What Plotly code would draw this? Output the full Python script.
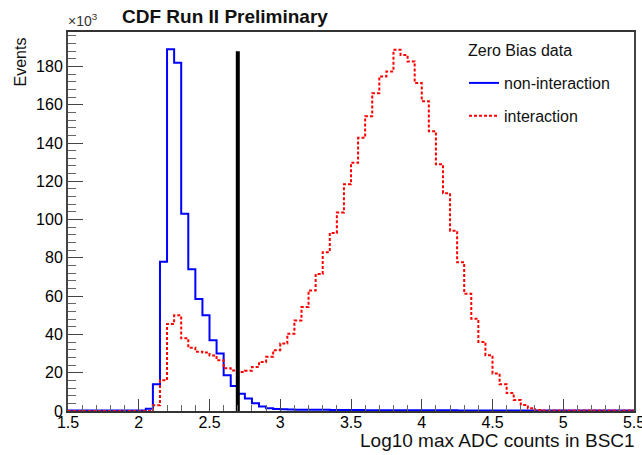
import numpy as np
import plotly.graph_objects as go

# ---- data (values in units of 10^3 events) ----
bin_start = 1.5
bin_width = 0.05

non_interaction = [
    0.2, 0.2, 0.2, 0.2, 0.2, 0.2, 0.2, 0.2, 0.2, 0.2,      # 1.50-2.00
    0.3, 1.2, 14.0, 78.0, 189.0, 182.0, 103.0, 74.0, 58.5, 50.0,   # 2.00-2.50
    37.0, 30.0, 18.7, 13.0, 9.0, 6.5, 4.0, 2.3, 1.5, 1.1,  # 2.50-3.00
    0.9, 0.8, 0.7, 0.7, 0.6, 0.6, 0.6, 0.5, 0.5, 0.5,      # 3.00-3.50
    0.5, 0.5, 0.4, 0.4, 0.4, 0.4, 0.4, 0.4, 0.4, 0.4,      # 3.50-4.00
    0.4, 0.4, 0.4, 0.4, 0.4, 0.3, 0.3, 0.3, 0.3, 0.3,      # 4.00-4.50
    0.3, 0.3, 0.3, 0.3, 0.3, 0.3, 0.3, 0.3, 0.3, 0.3,      # 4.50-5.00
    0.3, 0.3, 0.3, 0.3, 0.3, 0.3, 0.3, 0.3, 0.3, 0.3,      # 5.00-5.50
]

interaction = [
    0.0, 0.0, 0.0, 0.0, 0.0, 0.0, 0.0, 0.0, 0.0, 0.0,      # 1.50-2.00
    0.0, 0.0, 3.0, 16.0, 45.5, 50.0, 38.0, 33.0, 31.0, 30.5,       # 2.00-2.50
    29.0, 26.5, 22.3, 21.2, 20.4, 21.0, 23.0, 25.6, 28.3, 31.8,    # 2.50-3.00
    35.2, 40.4, 47.3, 54.3, 63.0, 71.6, 83.0, 93.0, 103.7, 118.4,  # 3.00-3.50
    129.7, 142.7, 154.0, 166.0, 174.8, 177.4, 188.7, 186.0, 182.6, 171.3,  # 3.50-4.00
    161.8, 146.2, 128.9, 113.8, 94.2, 77.7, 61.2, 48.2, 36.1, 29.1,  # 4.00-4.50
    19.6, 14.0, 9.4, 5.7, 3.1, 1.5, 0.5, 0.2, 0.2, 0.2,    # 4.50-5.00
    0.2, 0.2, 0.2, 0.2, 0.2, 0.2, 0.2, 0.2, 0.2, 0.2,      # 5.00-5.50
]

cut_value = 2.7
cut_height = 188.0

x_ticks = [1.5, 2, 2.5, 3, 3.5, 4, 4.5, 5, 5.5]
x_tick_labels = ["1.5", "2", "2.5", "3", "3.5", "4", "4.5", "5", "5.5"]
y_ticks = [0, 20, 40, 60, 80, 100, 120, 140, 160, 180]

# ---- build step outlines ----
n = len(non_interaction)
edges = bin_start + bin_width * np.arange(n + 1)


def step(vals):
    v = list(vals) + [vals[-1]]
    return edges, v


FONT = "Liberation Sans, Arial, Helvetica, sans-serif"
W, H = 642, 455
L, R, T, B = 68, 8, 32, 44
PW, PH = W - L - R, H - T - B


def px_x(px):
    return (px - L) / PW


def px_y(py):
    return (H - B - py) / PH


fig = go.Figure()
xb, yb = step(non_interaction)
fig.add_trace(go.Scatter(
    x=xb, y=yb, mode="lines", line_shape="hv",
    line=dict(color="#0000ff", width=2),
    name="non-interaction", legendgroup="a",
))
xr, yr = step(interaction)
fig.add_trace(go.Scatter(
    x=xr, y=yr, mode="lines", line_shape="hv",
    line=dict(color="#ff0000", width=2, dash="3px,2px"),
    name="interaction", legendgroup="b",
))
fig.add_trace(go.Scatter(
    x=[cut_value, cut_value], y=[0, cut_height], mode="lines",
    line=dict(color="black", width=4), showlegend=False,
))

fig.update_layout(
    width=W, height=H,
    margin=dict(l=L, r=R, t=T, b=B, autoexpand=False),
    paper_bgcolor="white", plot_bgcolor="white",
    font=dict(family=FONT, size=16, color="#111"),
    showlegend=True,
    legend=dict(
        x=px_x(464), y=px_y(66), xanchor="left", yanchor="top",
        bgcolor="rgba(0,0,0,0)", borderwidth=0,
        font=dict(size=16, color="#111"),
        tracegroupgap=9, itemwidth=30,
    ),
    xaxis=dict(
        range=[1.5, 5.5], tickvals=x_ticks, ticktext=x_tick_labels,
        ticks="inside", ticklen=12, tickwidth=1, tickcolor="#444",
        minor=dict(ticks="inside", ticklen=6, dtick=0.1, tickcolor="#666"),
        showline=True, mirror=True, linecolor="#333", linewidth=2,
        showgrid=False, zeroline=False, automargin=False,
        ticklabeloverflow="allow", ticklabelstandoff=-4,
        tickfont=dict(size=16, color="#000"),
    ),
    yaxis=dict(
        range=[0, 198], tickvals=y_ticks,
        ticks="inside", ticklen=15, tickwidth=1, tickcolor="#444",
        minor=dict(ticks="inside", ticklen=8, dtick=4, tickcolor="#666"),
        showline=True, mirror=True, linecolor="#444", linewidth=2,
        showgrid=False, zeroline=False, automargin=False,
        tickfont=dict(size=16, color="#000"),
    ),
    annotations=[
        dict(text="<b>CDF Run II Preliminary</b>", xref="paper", yref="paper",
             x=px_x(225), y=px_y(16), xanchor="center", yanchor="middle",
             showarrow=False, font=dict(size=19, color="#111")),
        dict(text="Log10 max ADC counts in BSC1", xref="paper", yref="paper",
             x=px_x(637), y=px_y(440), xanchor="right", yanchor="middle",
             showarrow=False, font=dict(size=19, color="#111")),
        dict(text="Events", xref="paper", yref="paper", textangle=-90,
             x=px_x(20), y=px_y(36), xanchor="center", yanchor="top",
             showarrow=False, font=dict(size=16, color="#111")),
        dict(text="×10<sup>3</sup>", xref="paper", yref="paper",
             x=px_x(66), y=px_y(31), xanchor="left", yanchor="bottom",
             showarrow=False, font=dict(size=14, color="#333")),
        dict(text="Zero Bias data", xref="paper", yref="paper",
             x=px_x(466), y=px_y(50), xanchor="left", yanchor="middle",
             showarrow=False, font=dict(size=16, color="#111")),
    ],
)

fig.write_html("out.html", config={"displayModeBar": False},
               post_script="document.body.style.margin='0px';")
